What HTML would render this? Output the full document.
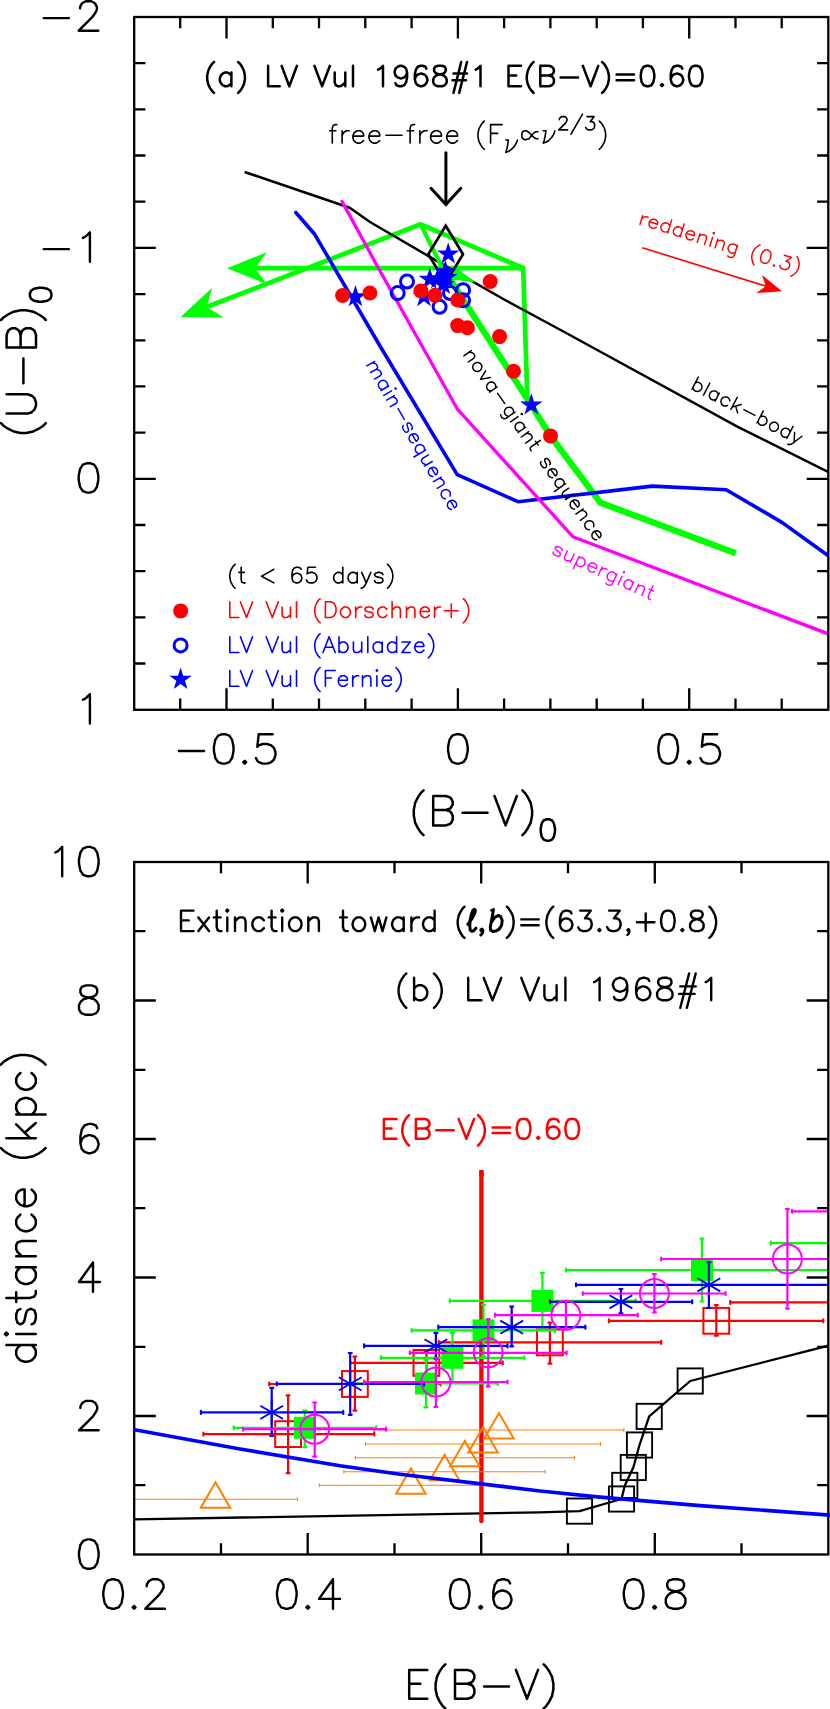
<!DOCTYPE html>
<html><head><meta charset="utf-8"><title>LV Vul</title>
<style>html,body{margin:0;padding:0;background:#fff;font-family:"Liberation Sans",sans-serif}svg{display:block}</style>
</head><body>
<svg width="830" height="1709" viewBox="0 0 830 1709">
<rect width="830" height="1709" fill="#fff"/>
<clipPath id="c1"><rect x="134.2" y="17.0" width="694.0999999999999" height="692.8"/></clipPath>
<g clip-path="url(#c1)">
<path d="M247.0,268.2L523.2,268.1" stroke="#00ff00" stroke-width="4.7" fill="none" stroke-linecap="butt" stroke-linejoin="miter" />
<path d="M199.3,309.8L420.5,224.4L523.2,268.0L527.5,403.0" stroke="#00ff00" stroke-width="4.7" fill="none" stroke-linecap="butt" stroke-linejoin="miter" />
<polygon points="227.0,268.2 267.0,252.2 255.0,268.2 267.0,284.2" fill="#00ff00"/>
<polygon points="180.6,317.0 212.2,287.7 206.7,306.9 223.7,317.5" fill="#00ff00"/>
<path d="M244.6,172.0L349.7,207.7L370.0,222.0L440.0,262.8L505.0,300.0L562.5,331.0L737.8,426.9L830.0,472.8" stroke="#000" stroke-width="2.5" fill="none" stroke-linecap="butt" stroke-linejoin="round" />
<path d="M420.5,224.4L442.6,268.4" stroke="#00ff00" stroke-width="4.2" fill="none" stroke-linecap="butt" stroke-linejoin="miter" />
<polygon points="455,267 475.8,282.4 452,279.4" fill="#00ff00"/>
<path d="M442.4,267.4L531.3,405.1L550.5,436.0L600.4,502.7L735.8,553.3" stroke="#00ff00" stroke-width="6.3" fill="none" stroke-linecap="butt" stroke-linejoin="round" />
<path d="M295.8,212.5L314.7,234.3L380.0,346.0L457.2,474.6L518.0,501.7L652.2,486.1L726.2,489.7L782.3,522.6L830.0,557.0" stroke="#0000ff" stroke-width="3.6" fill="none" stroke-linecap="round" stroke-linejoin="round" />
<path d="M342.0,201.4L380.0,271.0L457.2,408.8L572.9,536.7L830.0,634.5" stroke="#ff00ff" stroke-width="3.3" fill="none" stroke-linecap="round" stroke-linejoin="round" />
</g>
<polygon points="445.7,225.8 463.0,254.3 445.7,283 428.3,254.3" fill="none" stroke="#000" stroke-width="2.7" stroke-linejoin="miter"/>
<path d="M445.9,152.8L445.9,204.2" stroke="#000" stroke-width="3.0" fill="none" stroke-linecap="round" stroke-linejoin="miter" />
<path d="M431.0,188.3L445.9,204.6L460.8,188.3" stroke="#000" stroke-width="3.0" fill="none" stroke-linecap="round" stroke-linejoin="miter" />
<polygon points="448.2,242.2 450.8,250.4 459.4,250.4 452.5,255.4 455.1,263.5 448.2,258.5 441.3,263.5 443.9,255.4 437.0,250.4 445.6,250.4" fill="#0000ff"/>
<polygon points="445.3,259.7 447.9,267.9 456.5,267.9 449.6,272.9 452.2,281.0 445.3,276.0 438.4,281.0 441.0,272.9 434.1,267.9 442.7,267.9" fill="#0000ff"/>
<polygon points="429.8,267.5 432.4,275.7 441.0,275.7 434.1,280.7 436.7,288.8 429.8,283.8 422.9,288.8 425.5,280.7 418.6,275.7 427.2,275.7" fill="#0000ff"/>
<polygon points="437.8,267.0 440.4,275.2 449.0,275.2 442.1,280.2 444.7,288.3 437.8,283.3 430.9,288.3 433.5,280.2 426.6,275.2 435.2,275.2" fill="#0000ff"/>
<polygon points="446.2,265.7 448.8,273.9 457.4,273.9 450.5,278.9 453.1,287.0 446.2,282.0 439.3,287.0 441.9,278.9 435.0,273.9 443.6,273.9" fill="#0000ff"/>
<polygon points="424.0,284.9 426.6,293.1 435.2,293.1 428.3,298.1 430.9,306.2 424.0,301.2 417.1,306.2 419.7,298.1 412.8,293.1 421.4,293.1" fill="#0000ff"/>
<polygon points="443.3,272.7 445.9,280.9 454.5,280.9 447.6,285.9 450.2,294.0 443.3,289.0 436.4,294.0 439.0,285.9 432.1,280.9 440.7,280.9" fill="#0000ff"/>
<polygon points="355.5,285.0 358.1,293.2 366.7,293.2 359.8,298.2 362.4,306.3 355.5,301.3 348.6,306.3 351.2,298.2 344.3,293.2 352.9,293.2" fill="#0000ff"/>
<polygon points="531.3,393.3 533.9,401.5 542.5,401.5 535.6,406.5 538.2,414.6 531.3,409.6 524.4,414.6 527.0,406.5 520.1,401.5 528.7,401.5" fill="#0000ff"/>
<circle cx="407" cy="281.5" r="6.5" fill="none" stroke="#0000ff" stroke-width="3"/>
<circle cx="397.7" cy="293.1" r="6.5" fill="none" stroke="#0000ff" stroke-width="3"/>
<circle cx="439.6" cy="306.8" r="6.5" fill="none" stroke="#0000ff" stroke-width="3"/>
<circle cx="463.1" cy="290.2" r="6.5" fill="none" stroke="#0000ff" stroke-width="3"/>
<circle cx="463.1" cy="300.3" r="6.5" fill="none" stroke="#0000ff" stroke-width="3"/>
<circle cx="450" cy="293" r="6.5" fill="none" stroke="#0000ff" stroke-width="3"/>
<circle cx="342.6" cy="295.5" r="7.5" fill="#ff0000"/>
<circle cx="369.9" cy="293" r="7.5" fill="#ff0000"/>
<circle cx="420.9" cy="290.9" r="7.5" fill="#ff0000"/>
<circle cx="434.9" cy="295.2" r="7.5" fill="#ff0000"/>
<circle cx="457.7" cy="300" r="7.5" fill="#ff0000"/>
<circle cx="490.2" cy="281.5" r="7.5" fill="#ff0000"/>
<circle cx="457.7" cy="325.6" r="7.5" fill="#ff0000"/>
<circle cx="467.4" cy="327.8" r="7.5" fill="#ff0000"/>
<circle cx="499.6" cy="336.6" r="7.5" fill="#ff0000"/>
<circle cx="513.5" cy="371.3" r="7.5" fill="#ff0000"/>
<circle cx="550.5" cy="435.9" r="7.5" fill="#ff0000"/>
<path d="M642.3,247.7L770.5,287.6" stroke="#ff0000" stroke-width="1.6" fill="none" stroke-linecap="butt" stroke-linejoin="miter" />
<polygon points="782.0,291.2 756.3,293.1 765.8,286.1 761.9,275.0" fill="#ff0000"/>
<circle cx="180.6" cy="610.9" r="7.5" fill="#ff0000"/>
<circle cx="180.6" cy="645.4" r="6.5" fill="none" stroke="#0000ff" stroke-width="3"/>
<polygon points="180.6,667.6 183.2,675.8 191.8,675.8 184.9,680.8 187.5,688.9 180.6,683.9 173.7,688.9 176.3,680.8 169.4,675.8 178.0,675.8" fill="#0000ff"/>
<rect x="134.2" y="17.0" width="694.0999999999999" height="692.8" fill="none" stroke="#000" stroke-width="2.3"/>
<path d="M180.2,17.0v11.2M180.2,709.8v-11.2M226.5,17.0v21.6M226.5,709.8v-21.6M272.8,17.0v11.2M272.8,709.8v-11.2M319.0,17.0v11.2M319.0,709.8v-11.2M365.3,17.0v11.2M365.3,709.8v-11.2M411.6,17.0v11.2M411.6,709.8v-11.2M457.9,17.0v21.6M457.9,709.8v-21.6M504.1,17.0v11.2M504.1,709.8v-11.2M550.4,17.0v11.2M550.4,709.8v-11.2M596.7,17.0v11.2M596.7,709.8v-11.2M642.9,17.0v11.2M642.9,709.8v-11.2M689.2,17.0v21.6M689.2,709.8v-21.6M735.5,17.0v11.2M735.5,709.8v-11.2M781.7,17.0v11.2M781.7,709.8v-11.2M134.2,63.2h11.2M828.3,63.2h-11.2M134.2,109.4h11.2M828.3,109.4h-11.2M134.2,155.5h11.2M828.3,155.5h-11.2M134.2,201.7h11.2M828.3,201.7h-11.2M134.2,247.9h21.6M828.3,247.9h-21.6M134.2,294.1h11.2M828.3,294.1h-11.2M134.2,340.3h11.2M828.3,340.3h-11.2M134.2,386.4h11.2M828.3,386.4h-11.2M134.2,432.6h11.2M828.3,432.6h-11.2M134.2,478.8h21.6M828.3,478.8h-21.6M134.2,525.0h11.2M828.3,525.0h-11.2M134.2,571.2h11.2M828.3,571.2h-11.2M134.2,617.3h11.2M828.3,617.3h-11.2M134.2,663.5h11.2M828.3,663.5h-11.2" stroke="#000" stroke-width="2.3" fill="none"/>
<path d="M43.7,18.1L68.9,18.1M80.1,8.3L80.1,6.9L81.5,4.1L82.9,2.7L85.7,1.3L91.3,1.3L94.1,2.7L95.5,4.1L96.9,6.9L96.9,9.7L95.5,12.5L92.7,16.7L78.7,30.7L98.3,30.7" stroke="#000" stroke-width="2.4" fill="none" stroke-linecap="round" stroke-linejoin="round"/>
<path d="M43.7,249.1L68.9,249.1M82.9,237.9L85.7,236.5L89.9,232.3L89.9,261.7" stroke="#000" stroke-width="2.4" fill="none" stroke-linecap="round" stroke-linejoin="round"/>
<path d="M87.1,463.2L82.9,464.6L80.1,468.8L78.7,475.8L78.7,480.0L80.1,487.0L82.9,491.2L87.1,492.6L89.9,492.6L94.1,491.2L96.9,487.0L98.3,480.0L98.3,475.8L96.9,468.8L94.1,464.6L89.9,463.2L87.1,463.2" stroke="#000" stroke-width="2.4" fill="none" stroke-linecap="round" stroke-linejoin="round"/>
<path d="M82.9,699.8L85.7,698.4L89.9,694.2L89.9,723.6" stroke="#000" stroke-width="2.4" fill="none" stroke-linecap="round" stroke-linejoin="round"/>
<path d="M178.9,751.0L204.1,751.0M222.3,734.2L218.1,735.6L215.3,739.8L213.9,746.8L213.9,751.0L215.3,758.0L218.1,762.2L222.3,763.6L225.1,763.6L229.3,762.2L232.1,758.0L233.5,751.0L233.5,746.8L232.1,739.8L229.3,735.6L225.1,734.2L222.3,734.2M244.7,760.8L243.3,762.2L244.7,763.6L246.1,762.2L244.7,760.8M272.7,734.2L258.7,734.2L257.3,746.8L258.7,745.4L262.9,744.0L267.1,744.0L271.3,745.4L274.1,748.2L275.5,752.4L275.5,755.2L274.1,759.4L271.3,762.2L267.1,763.6L262.9,763.6L258.7,762.2L257.3,760.8L255.9,758.0" stroke="#000" stroke-width="2.4" fill="none" stroke-linecap="round" stroke-linejoin="round"/>
<path d="M456.5,734.2L452.2,735.6L449.5,739.8L448.1,746.8L448.1,751.0L449.5,758.0L452.2,762.2L456.5,763.6L459.2,763.6L463.5,762.2L466.2,758.0L467.7,751.0L467.7,746.8L466.2,739.8L463.5,735.6L459.2,734.2L456.5,734.2" stroke="#000" stroke-width="2.4" fill="none" stroke-linecap="round" stroke-linejoin="round"/>
<path d="M666.8,734.2L662.6,735.6L659.8,739.8L658.4,746.8L658.4,751.0L659.8,758.0L662.6,762.2L666.8,763.6L669.6,763.6L673.8,762.2L676.6,758.0L678.0,751.0L678.0,746.8L676.6,739.8L673.8,735.6L669.6,734.2L666.8,734.2M689.2,760.8L687.8,762.2L689.2,763.6L690.6,762.2L689.2,760.8M717.2,734.2L703.2,734.2L701.8,746.8L703.2,745.4L707.4,744.0L711.6,744.0L715.8,745.4L718.6,748.2L720.0,752.4L720.0,755.2L718.6,759.4L715.8,762.2L711.6,763.6L707.4,763.6L703.2,762.2L701.8,760.8L700.4,758.0" stroke="#000" stroke-width="2.4" fill="none" stroke-linecap="round" stroke-linejoin="round"/>
<path d="M423.5,790.4L420.7,793.1L417.9,797.4L415.1,803.0L413.8,810.0L413.8,815.6L415.1,822.6L417.9,828.1L420.7,832.4L423.5,835.1M433.2,796.0L433.2,825.4M433.2,796.0L445.8,796.0L450.0,797.4L451.3,798.8L452.7,801.6L452.7,804.4L451.3,807.1L450.0,808.6L445.8,810.0M433.2,810.0L445.8,810.0L450.0,811.4L451.3,812.8L452.7,815.6L452.7,819.8L451.3,822.6L450.0,824.0L445.8,825.4L433.2,825.4M462.5,812.8L487.5,812.8M494.5,796.0L505.6,825.4M516.8,796.0L505.6,825.4M522.4,790.4L525.1,793.1L527.9,797.4L530.7,803.0L532.1,810.0L532.1,815.6L530.7,822.6L527.9,828.1L525.1,832.4L522.4,835.1M546.8,819.3L543.8,820.3L541.7,823.4L540.7,828.5L540.7,831.6L541.7,836.7L543.8,839.7L546.8,840.8L548.9,840.8L551.9,839.7L553.9,836.7L555.0,831.6L555.0,828.5L553.9,823.4L551.9,820.3L548.9,819.3L546.8,819.3" stroke="#000" stroke-width="2.5" fill="none" stroke-linecap="round" stroke-linejoin="round"/>
<path d="M1.0,423.2L3.8,426.0L8.0,428.7L13.6,431.5L20.6,432.9L26.2,432.9L33.2,431.5L38.8,428.7L43.0,426.0L45.8,423.2M6.6,413.6L27.6,413.6L31.8,412.2L34.6,409.4L36.0,405.3L36.0,402.6L34.6,398.4L31.8,395.7L27.6,394.3L6.6,394.3M23.4,383.3L23.4,358.5M6.6,347.5L36.0,347.5M6.6,347.5L6.6,335.1L8.0,331.0L9.4,329.6L12.2,328.2L15.0,328.2L17.8,329.6L19.2,331.0L20.6,335.1M20.6,347.5L20.6,335.1L22.0,331.0L23.4,329.6L26.2,328.2L30.4,328.2L33.2,329.6L34.6,331.0L36.0,335.1L36.0,347.5M1.0,320.0L3.8,317.2L8.0,314.5L13.6,311.7L20.6,310.3L26.2,310.3L33.2,311.7L38.8,314.5L43.0,317.2L45.8,320.0M29.9,295.8L31.0,298.8L34.0,300.8L39.1,301.8L42.2,301.8L47.3,300.8L50.4,298.8L51.4,295.8L51.4,293.8L50.4,290.8L47.3,288.8L42.2,287.8L39.1,287.8L34.0,288.8L31.0,290.8L29.9,293.8L29.9,295.8" stroke="#000" stroke-width="2.5" fill="none" stroke-linecap="round" stroke-linejoin="round"/>
<path d="M214.0,62.0L212.1,63.9L210.1,66.8L208.2,70.7L207.2,75.5L207.2,79.4L208.2,84.2L210.1,88.1L212.1,91.0L214.0,92.9M231.4,72.6L231.4,86.2M231.4,75.5L229.5,73.6L227.5,72.6L224.6,72.6L222.7,73.6L220.8,75.5L219.8,78.4L219.8,80.3L220.8,83.2L222.7,85.2L224.6,86.2L227.5,86.2L229.5,85.2L231.4,83.2M238.1,62.0L240.1,63.9L242.0,66.8L243.9,70.7L244.9,75.5L244.9,79.4L243.9,84.2L242.0,88.1L240.1,91.0L238.1,92.9M268.1,65.8L268.1,86.2M268.1,86.2L279.7,86.2M281.6,65.8L289.3,86.2M297.0,65.8L289.3,86.2M314.4,65.8L322.1,86.2M329.9,65.8L322.1,86.2M334.7,72.6L334.7,82.3L335.7,85.2L337.6,86.2L340.5,86.2L342.4,85.2L345.3,82.3M345.3,72.6L345.3,86.2M353.0,65.8L353.0,86.2M378.1,69.7L380.1,68.7L383.0,65.8L383.0,86.2M407.1,72.6L406.1,75.5L404.2,77.4L401.3,78.4L400.3,78.4L397.5,77.4L395.5,75.5L394.6,72.6L394.6,71.6L395.5,68.7L397.5,66.8L400.3,65.8L401.3,65.8L404.2,66.8L406.1,68.7L407.1,72.6L407.1,77.4L406.1,82.3L404.2,85.2L401.3,86.2L399.4,86.2L396.5,85.2L395.5,83.2M426.4,68.7L425.5,66.8L422.6,65.8L420.6,65.8L417.7,66.8L415.8,69.7L414.8,74.5L414.8,79.4L415.8,83.2L417.7,85.2L420.6,86.2L421.6,86.2L424.5,85.2L426.4,83.2L427.4,80.3L427.4,79.4L426.4,76.5L424.5,74.5L421.6,73.6L420.6,73.6L417.7,74.5L415.8,76.5L414.8,79.4M438.0,65.8L435.1,66.8L434.1,68.7L434.1,70.7L435.1,72.6L437.0,73.6L440.9,74.5L443.8,75.5L445.7,77.4L446.7,79.4L446.7,82.3L445.7,84.2L444.8,85.2L441.9,86.2L438.0,86.2L435.1,85.2L434.1,84.2L433.2,82.3L433.2,79.4L434.1,77.4L436.1,75.5L439.0,74.5L442.8,73.6L444.8,72.6L445.7,70.7L445.7,68.7L444.8,66.8L441.9,65.8L438.0,65.8M461.2,62.0L453.5,92.9M467.0,62.0L459.2,92.9M453.5,73.6L467.0,73.6M452.5,80.3L466.0,80.3M475.7,69.7L477.6,68.7L480.5,65.8L480.5,86.2M508.5,65.8L508.5,86.2M508.5,65.8L521.0,65.8M508.5,75.5L516.2,75.5M508.5,86.2L521.0,86.2M533.6,62.0L531.7,63.9L529.7,66.8L527.8,70.7L526.8,75.5L526.8,79.4L527.8,84.2L529.7,88.1L531.7,91.0L533.6,92.9M540.3,65.8L540.3,86.2M540.3,65.8L549.0,65.8L551.9,66.8L552.9,67.8L553.9,69.7L553.9,71.6L552.9,73.6L551.9,74.5L549.0,75.5M540.3,75.5L549.0,75.5L551.9,76.5L552.9,77.4L553.9,79.4L553.9,82.3L552.9,84.2L551.9,85.2L549.0,86.2L540.3,86.2M560.6,77.4L578.0,77.4M582.8,65.8L590.6,86.2M598.3,65.8L590.6,86.2M602.1,62.0L604.1,63.9L606.0,66.8L607.9,70.7L608.9,75.5L608.9,79.4L607.9,84.2L606.0,88.1L604.1,91.0L602.1,92.9M616.6,74.5L634.0,74.5M616.6,80.3L634.0,80.3M646.6,65.8L643.7,66.8L641.7,69.7L640.8,74.5L640.8,77.4L641.7,82.3L643.7,85.2L646.6,86.2L648.5,86.2L651.4,85.2L653.3,82.3L654.3,77.4L654.3,74.5L653.3,69.7L651.4,66.8L648.5,65.8L646.6,65.8M662.0,84.2L661.0,85.2L662.0,86.2L663.0,85.2L662.0,84.2M682.3,68.7L681.3,66.8L678.4,65.8L676.5,65.8L673.6,66.8L671.7,69.7L670.7,74.5L670.7,79.4L671.7,83.2L673.6,85.2L676.5,86.2L677.4,86.2L680.3,85.2L682.3,83.2L683.2,80.3L683.2,79.4L682.3,76.5L680.3,74.5L677.4,73.6L676.5,73.6L673.6,74.5L671.7,76.5L670.7,79.4M694.8,65.8L691.9,66.8L690.0,69.7L689.0,74.5L689.0,77.4L690.0,82.3L691.9,85.2L694.8,86.2L696.8,86.2L699.7,85.2L701.6,82.3L702.5,77.4L702.5,74.5L701.6,69.7L699.7,66.8L696.8,65.8L694.8,65.8" stroke="#000" stroke-width="2.5" fill="none" stroke-linecap="round" stroke-linejoin="round"/>
<path d="M336.8,124.6L335.0,124.6L333.2,125.5L332.3,128.1L332.3,143.1M329.6,130.8L335.9,130.8M342.1,130.8L342.1,143.1M342.1,136.1L343.0,133.4L344.8,131.7L346.6,130.8L349.3,130.8M352.9,136.1L363.6,136.1L363.6,134.3L362.7,132.5L361.8,131.7L360.0,130.8L357.3,130.8L355.5,131.7L353.7,133.4L352.9,136.1L352.9,137.8L353.7,140.5L355.5,142.2L357.3,143.1L360.0,143.1L361.8,142.2L363.6,140.5M368.9,136.1L379.7,136.1L379.7,134.3L378.8,132.5L377.9,131.7L376.1,130.8L373.4,130.8L371.6,131.7L369.8,133.4L368.9,136.1L368.9,137.8L369.8,140.5L371.6,142.2L373.4,143.1L376.1,143.1L377.9,142.2L379.7,140.5M385.9,135.2L402.0,135.2M414.6,124.6L412.8,124.6L411.0,125.5L410.1,128.1L410.1,143.1M407.4,130.8L413.7,130.8M419.9,130.8L419.9,143.1M419.9,136.1L420.8,133.4L422.6,131.7L424.4,130.8L427.1,130.8M430.6,136.1L441.4,136.1L441.4,134.3L440.5,132.5L439.6,131.7L437.8,130.8L435.1,130.8L433.3,131.7L431.5,133.4L430.6,136.1L430.6,137.8L431.5,140.5L433.3,142.2L435.1,143.1L437.8,143.1L439.6,142.2L441.4,140.5M446.7,136.1L457.5,136.1L457.5,134.3L456.6,132.5L455.7,131.7L453.9,130.8L451.2,130.8L449.4,131.7L447.6,133.4L446.7,136.1L446.7,137.8L447.6,140.5L449.4,142.2L451.2,143.1L453.9,143.1L455.7,142.2L457.5,140.5M484.3,121.1L482.5,122.9L480.7,125.5L478.9,129.0L478.0,133.4L478.0,136.9L478.9,141.3L480.7,144.9L482.5,147.5L484.3,149.3M490.6,124.6L490.6,143.1M490.6,124.6L502.2,124.6M490.6,133.4L497.7,133.4M505.8,140.0L508.4,140.0L507.6,145.3L506.7,149.7L505.8,152.3M517.4,140.0L516.5,142.7L515.6,144.4L513.8,147.1L511.1,149.7L508.4,151.5L505.8,152.3M538.0,138.7L536.2,138.7L534.4,137.8L532.6,136.1L529.0,132.5L526.3,130.8L524.5,130.8L522.8,131.7L521.9,133.4L521.9,136.9L522.8,138.7L524.5,139.6L526.3,139.6L529.0,138.7L532.6,134.3L534.4,132.5L536.2,131.7L538.0,131.7M543.3,130.8L546.0,130.8L545.1,136.1L544.2,140.5L543.3,143.1M554.9,130.8L554.1,133.4L553.2,135.2L551.4,137.8L548.7,140.5L546.0,142.2L543.3,143.1M559.3,119.8L559.3,119.1L560.0,117.9L560.6,117.2L561.9,116.6L564.5,116.6L565.8,117.2L566.4,117.9L567.0,119.1L567.0,120.4L566.4,121.7L565.1,123.6L558.7,129.9L567.7,129.9M582.5,114.1L570.9,134.3M587.0,116.6L594.1,116.6L590.2,121.7L592.2,121.7L593.4,122.3L594.1,122.9L594.7,124.8L594.7,126.1L594.1,128.0L592.8,129.3L590.9,129.9L588.9,129.9L587.0,129.3L586.4,128.6L585.7,127.4M599.3,121.1L601.1,122.9L602.9,125.5L604.7,129.0L605.6,133.4L605.6,136.9L604.7,141.3L602.9,144.9L601.1,147.5L599.3,149.3" stroke="#000" stroke-width="1.6" fill="none" stroke-linecap="round" stroke-linejoin="round"/>
<path d="M235.1,564.2L233.6,565.7L232.1,567.9L230.6,570.9L229.8,574.7L229.8,577.7L230.6,581.4L232.1,584.4L233.6,586.7L235.1,588.2M241.2,567.2L241.2,579.9L241.9,582.2L243.4,582.9L245.0,582.9M238.9,572.4L244.2,572.4M273.8,569.4L261.6,576.2L273.8,582.9M301.1,569.4L300.3,567.9L298.0,567.2L296.5,567.2L294.2,567.9L292.7,570.2L292.0,573.9L292.0,577.7L292.7,580.7L294.2,582.2L296.5,582.9L297.3,582.9L299.5,582.2L301.1,580.7L301.8,578.4L301.8,577.7L301.1,575.4L299.5,573.9L297.3,573.2L296.5,573.2L294.2,573.9L292.7,575.4L292.0,577.7M315.5,567.2L307.9,567.2L307.1,573.9L307.9,573.2L310.2,572.4L312.4,572.4L314.7,573.2L316.2,574.7L317.0,576.9L317.0,578.4L316.2,580.7L314.7,582.2L312.4,582.9L310.2,582.9L307.9,582.2L307.1,581.4L306.4,579.9M342.8,567.2L342.8,582.9M342.8,574.7L341.2,573.2L339.7,572.4L337.5,572.4L335.9,573.2L334.4,574.7L333.7,576.9L333.7,578.4L334.4,580.7L335.9,582.2L337.5,582.9L339.7,582.9L341.2,582.2L342.8,580.7M357.2,572.4L357.2,582.9M357.2,574.7L355.7,573.2L354.1,572.4L351.9,572.4L350.3,573.2L348.8,574.7L348.1,576.9L348.1,578.4L348.8,580.7L350.3,582.2L351.9,582.9L354.1,582.9L355.7,582.2L357.2,580.7M361.7,572.4L366.3,582.9M370.8,572.4L366.3,582.9L364.7,585.9L363.2,587.4L361.7,588.2L361.0,588.2M382.9,574.7L382.2,573.2L379.9,572.4L377.6,572.4L375.4,573.2L374.6,574.7L375.4,576.2L376.9,576.9L380.7,577.7L382.2,578.4L382.9,579.9L382.9,580.7L382.2,582.2L379.9,582.9L377.6,582.9L375.4,582.2L374.6,580.7M387.5,564.2L389.0,565.7L390.5,567.9L392.0,570.9L392.8,574.7L392.8,577.7L392.0,581.4L390.5,584.4L389.0,586.7L387.5,588.2" stroke="#000" stroke-width="1.6" fill="none" stroke-linecap="round" stroke-linejoin="round"/>
<path d="M229.8,601.8L229.8,617.5M229.8,617.5L238.9,617.5M240.4,601.8L246.5,617.5M252.6,601.8L246.5,617.5M266.2,601.8L272.3,617.5M278.3,601.8L272.3,617.5M282.1,607.0L282.1,614.5L282.9,616.8L284.4,617.5L286.7,617.5L288.2,616.8L290.5,614.5M290.5,607.0L290.5,617.5M296.5,601.8L296.5,617.5M320.1,598.8L318.5,600.2L317.0,602.5L315.5,605.5L314.7,609.2L314.7,612.2L315.5,616.0L317.0,619.0L318.5,621.2L320.1,622.8M325.4,601.8L325.4,617.5M325.4,601.8L330.7,601.8L332.9,602.5L334.5,604.0L335.2,605.5L336.0,607.8L336.0,611.5L335.2,613.8L334.5,615.2L332.9,616.8L330.7,617.5L325.4,617.5M344.3,607.0L342.8,607.8L341.3,609.2L340.5,611.5L340.5,613.0L341.3,615.2L342.8,616.8L344.3,617.5L346.6,617.5L348.1,616.8L349.6,615.2L350.4,613.0L350.4,611.5L349.6,609.2L348.1,607.8L346.6,607.0L344.3,607.0M355.7,607.0L355.7,617.5M355.7,611.5L356.5,609.2L358.0,607.8L359.5,607.0L361.8,607.0M373.1,609.2L372.4,607.8L370.1,607.0L367.8,607.0L365.6,607.8L364.8,609.2L365.6,610.8L367.1,611.5L370.9,612.2L372.4,613.0L373.1,614.5L373.1,615.2L372.4,616.8L370.1,617.5L367.8,617.5L365.6,616.8L364.8,615.2M386.8,609.2L385.3,607.8L383.8,607.0L381.5,607.0L380.0,607.8L378.4,609.2L377.7,611.5L377.7,613.0L378.4,615.2L380.0,616.8L381.5,617.5L383.8,617.5L385.3,616.8L386.8,615.2M392.1,601.8L392.1,617.5M392.1,610.0L394.4,607.8L395.9,607.0L398.2,607.0L399.7,607.8L400.4,610.0L400.4,617.5M406.5,607.0L406.5,617.5M406.5,610.0L408.8,607.8L410.3,607.0L412.6,607.0L414.1,607.8L414.9,610.0L414.9,617.5M420.2,611.5L429.3,611.5L429.3,610.0L428.5,608.5L427.7,607.8L426.2,607.0L424.0,607.0L422.4,607.8L420.9,609.2L420.2,611.5L420.2,613.0L420.9,615.2L422.4,616.8L424.0,617.5L426.2,617.5L427.7,616.8L429.3,615.2M434.6,607.0L434.6,617.5M434.6,611.5L435.3,609.2L436.8,607.8L438.4,607.0L440.6,607.0M451.3,604.0L451.3,617.5M444.4,610.8L458.1,610.8M463.4,598.8L464.9,600.2L466.4,602.5L467.9,605.5L468.7,609.2L468.7,612.2L467.9,616.0L466.4,619.0L464.9,621.2L463.4,622.8" stroke="#ff0000" stroke-width="1.6" fill="none" stroke-linecap="round" stroke-linejoin="round"/>
<path d="M229.8,636.8L229.8,652.5M229.8,652.5L238.9,652.5M240.4,636.8L246.5,652.5M252.5,636.8L246.5,652.5M266.2,636.8L272.2,652.5M278.3,636.8L272.2,652.5M282.1,642.0L282.1,649.5L282.9,651.8L284.4,652.5L286.6,652.5L288.2,651.8L290.4,649.5M290.4,642.0L290.4,652.5M296.5,636.8L296.5,652.5M320.0,633.8L318.5,635.2L317.0,637.5L315.5,640.5L314.7,644.2L314.7,647.2L315.5,651.0L317.0,654.0L318.5,656.2L320.0,657.8M329.1,636.8L323.0,652.5M329.1,636.8L335.2,652.5M325.3,647.2L332.9,647.2M339.0,636.8L339.0,652.5M339.0,644.2L340.5,642.8L342.0,642.0L344.3,642.0L345.8,642.8L347.3,644.2L348.0,646.5L348.0,648.0L347.3,650.2L345.8,651.8L344.3,652.5L342.0,652.5L340.5,651.8L339.0,650.2M353.4,642.0L353.4,649.5L354.1,651.8L355.6,652.5L357.9,652.5L359.4,651.8L361.7,649.5M361.7,642.0L361.7,652.5M367.8,636.8L367.8,652.5M382.2,642.0L382.2,652.5M382.2,644.2L380.6,642.8L379.1,642.0L376.9,642.0L375.3,642.8L373.8,644.2L373.1,646.5L373.1,648.0L373.8,650.2L375.3,651.8L376.9,652.5L379.1,652.5L380.6,651.8L382.2,650.2M396.6,636.8L396.6,652.5M396.6,644.2L395.0,642.8L393.5,642.0L391.3,642.0L389.7,642.8L388.2,644.2L387.5,646.5L387.5,648.0L388.2,650.2L389.7,651.8L391.3,652.5L393.5,652.5L395.0,651.8L396.6,650.2M410.2,642.0L401.9,652.5M401.9,642.0L410.2,642.0M401.9,652.5L410.2,652.5M414.8,646.5L423.8,646.5L423.8,645.0L423.1,643.5L422.3,642.8L420.8,642.0L418.5,642.0L417.0,642.8L415.5,644.2L414.8,646.5L414.8,648.0L415.5,650.2L417.0,651.8L418.5,652.5L420.8,652.5L422.3,651.8L423.8,650.2M428.4,633.8L429.9,635.2L431.4,637.5L432.9,640.5L433.7,644.2L433.7,647.2L432.9,651.0L431.4,654.0L429.9,656.2L428.4,657.8" stroke="#0000ff" stroke-width="1.6" fill="none" stroke-linecap="round" stroke-linejoin="round"/>
<path d="M229.8,670.5L229.8,686.2M229.8,686.2L238.9,686.2M240.4,670.5L246.5,686.2M252.6,670.5L246.5,686.2M266.2,670.5L272.3,686.2M278.3,670.5L272.3,686.2M282.1,675.7L282.1,683.2L282.9,685.5L284.4,686.2L286.7,686.2L288.2,685.5L290.5,683.2M290.5,675.7L290.5,686.2M296.5,670.5L296.5,686.2M320.1,667.5L318.5,669.0L317.0,671.2L315.5,674.2L314.7,678.0L314.7,681.0L315.5,684.7L317.0,687.7L318.5,690.0L320.1,691.5M325.4,670.5L325.4,686.2M325.4,670.5L335.2,670.5M325.4,678.0L331.4,678.0M338.3,680.2L347.4,680.2L347.4,678.7L346.6,677.2L345.8,676.5L344.3,675.7L342.0,675.7L340.5,676.5L339.0,678.0L338.3,680.2L338.3,681.7L339.0,684.0L340.5,685.5L342.0,686.2L344.3,686.2L345.8,685.5L347.4,684.0M352.7,675.7L352.7,686.2M352.7,680.2L353.4,678.0L354.9,676.5L356.5,675.7L358.7,675.7M362.5,675.7L362.5,686.2M362.5,678.7L364.8,676.5L366.3,675.7L368.6,675.7L370.1,676.5L370.9,678.7L370.9,686.2M376.2,670.5L376.9,671.2L377.7,670.5L376.9,669.7L376.2,670.5M376.9,675.7L376.9,686.2M382.2,680.2L391.3,680.2L391.3,678.7L390.6,677.2L389.8,676.5L388.3,675.7L386.0,675.7L384.5,676.5L383.0,678.0L382.2,680.2L382.2,681.7L383.0,684.0L384.5,685.5L386.0,686.2L388.3,686.2L389.8,685.5L391.3,684.0M395.9,667.5L397.4,669.0L398.9,671.2L400.4,674.2L401.2,678.0L401.2,681.0L400.4,684.7L398.9,687.7L397.4,690.0L395.9,691.5" stroke="#0000ff" stroke-width="1.6" fill="none" stroke-linecap="round" stroke-linejoin="round"/>
<path d="M374.7,361.4L366.8,365.9M372.4,362.7L375.2,363.5L376.4,364.4L377.4,366.2L377.6,367.7L376.2,369.3L370.6,372.5M376.2,369.3L379.0,370.1L380.2,371.0L381.2,372.8L381.4,374.3L380.0,375.9L374.4,379.1M388.8,386.0L380.9,390.5M387.1,386.9L387.6,385.1L387.5,383.6L386.4,381.8L385.2,380.9L383.3,380.3L381.3,380.7L380.2,381.4L378.8,382.9L378.4,384.8L378.5,386.3L379.6,388.1L380.8,389.0L382.6,389.5M395.2,387.9L395.0,388.8L395.9,389.1L396.1,388.2L395.2,387.9M391.6,390.8L383.7,395.3M394.4,395.6L386.5,400.1M392.1,396.9L394.8,397.7L396.1,398.6L397.1,400.4L397.2,401.9L395.9,403.5L390.3,406.7M398.1,408.6L404.3,419.4M411.6,429.5L412.4,428.3L411.9,426.2L410.9,424.4L409.3,422.9L407.8,422.9L407.1,424.2L407.2,425.7L408.3,429.0L408.5,430.5L407.7,431.8L407.1,432.1L405.7,432.2L404.1,430.7L403.0,428.9L402.5,426.8L403.3,425.5M412.0,434.1L416.2,441.3L417.3,440.6L418.1,439.4L418.3,438.5L418.2,437.0L417.1,435.2L415.9,434.3L414.0,433.7L412.0,434.1L410.9,434.7L409.5,436.3L409.1,438.2L409.2,439.7L410.3,441.5L411.5,442.4L413.3,442.9M425.7,450.1L413.9,457.0M424.1,451.1L424.5,449.3L424.4,447.7L423.3,445.9L422.1,445.1L420.3,444.5L418.2,444.9L417.1,445.5L415.7,447.1L415.3,449.0L415.4,450.5L416.5,452.3L417.7,453.2L419.5,453.7M428.5,454.9L422.9,458.2L421.5,459.8L421.6,461.3L422.7,463.1L423.9,464.0L426.7,464.8M432.3,461.5L424.4,466.1M431.3,467.7L435.5,474.9L436.6,474.2L437.4,473.0L437.6,472.1L437.5,470.5L436.4,468.7L435.2,467.9L433.4,467.3L431.3,467.7L430.2,468.3L428.9,469.9L428.4,471.8L428.5,473.3L429.6,475.1L430.8,476.0L432.7,476.5M441.3,477.1L433.4,481.7M439.0,478.4L441.7,479.3L443.0,480.1L444.0,481.9L444.2,483.5L442.8,485.0L437.2,488.3M449.9,496.1L450.4,494.3L450.2,492.7L449.2,490.9L447.9,490.1L446.1,489.5L444.1,489.9L443.0,490.5L441.6,492.1L441.2,494.0L441.3,495.5L442.3,497.3L443.6,498.2L445.4,498.7M450.3,500.7L454.4,507.9L455.6,507.2L456.4,506.0L456.6,505.1L456.4,503.5L455.4,501.7L454.2,500.9L452.3,500.3L450.3,500.7L449.2,501.3L447.8,502.9L447.4,504.8L447.5,506.3L448.6,508.1L449.8,509.0L451.6,509.5" stroke="#0000ff" stroke-width="1.45" fill="none" stroke-linecap="round" stroke-linejoin="round"/>
<path d="M471.3,350.6L463.9,355.9M469.2,352.1L472.0,352.7L473.3,353.4L474.5,355.1L474.8,356.6L473.6,358.3L468.3,362.0M480.4,363.5L479.1,362.8L477.3,362.4L475.3,363.0L474.2,363.7L473.0,365.4L472.7,367.3L473.0,368.8L474.2,370.4L475.5,371.2L477.4,371.5L479.4,371.0L480.4,370.2L481.6,368.5L481.9,366.7L481.6,365.2L480.4,363.5M485.6,370.8L480.5,379.4M490.3,377.5L480.5,379.4M497.1,387.0L489.6,392.2M495.5,388.1L495.7,386.2L495.5,384.7L494.3,383.1L493.0,382.3L491.1,382.0L489.1,382.5L488.1,383.3L486.9,385.0L486.6,386.8L486.9,388.3L488.0,390.0L489.4,390.7L491.2,391.1M497.6,393.3L504.7,403.4M514.9,412.1L506.4,418.1L504.4,418.7L503.5,418.5L502.1,417.8L501.0,416.1L500.7,414.6M513.3,413.3L513.5,411.4L513.3,409.9L512.1,408.2L510.8,407.5L508.9,407.1L506.9,407.7L505.9,408.4L504.7,410.1L504.4,412.0L504.7,413.5L505.9,415.2L507.2,415.9L509.0,416.3M521.4,413.4L521.2,414.4L522.1,414.5L522.3,413.6L521.4,413.4M518.0,416.6L510.6,421.9M525.6,427.2L518.1,432.5M524.0,428.4L524.2,426.5L524.0,425.0L522.8,423.3L521.5,422.6L519.6,422.2L517.6,422.8L516.6,423.5L515.4,425.2L515.1,427.1L515.4,428.6L516.5,430.3L517.9,431.0L519.7,431.4M528.7,431.7L521.3,437.0M526.6,433.2L529.4,433.8L530.7,434.5L531.9,436.2L532.2,437.7L531.0,439.4L525.6,443.1M540.4,440.3L531.3,446.6L530.1,448.3L530.4,449.8L531.2,450.9M535.5,441.2L538.2,445.1M549.7,464.7L550.4,463.4L549.7,461.3L548.5,459.7L546.8,458.4L545.3,458.5L544.7,459.9L544.9,461.4L546.4,464.5L546.6,466.0L546.0,467.3L545.4,467.7L544.0,467.9L542.3,466.6L541.1,464.9L540.4,462.9L541.1,461.6M550.5,469.2L555.2,475.9L556.3,475.1L557.0,473.8L557.1,472.9L556.8,471.4L555.6,469.7L554.3,469.0L552.5,468.6L550.5,469.2L549.4,469.9L548.2,471.6L548.0,473.5L548.2,475.0L549.4,476.7L550.7,477.4L552.6,477.8M565.5,483.7L554.4,491.6M563.9,484.8L564.2,483.0L564.0,481.5L562.8,479.8L561.4,479.0L559.6,478.7L557.6,479.2L556.5,480.0L555.3,481.7L555.1,483.5L555.3,485.0L556.5,486.7L557.8,487.5L559.7,487.8M568.7,488.2L563.4,491.9L562.2,493.6L562.5,495.1L563.6,496.8L565.0,497.5L567.8,498.1M573.1,494.3L565.6,499.6M572.6,500.5L577.4,507.2L578.5,506.4L579.1,505.1L579.3,504.2L579.0,502.7L577.8,501.0L576.5,500.3L574.6,499.9L572.6,500.5L571.6,501.2L570.4,502.9L570.1,504.8L570.4,506.3L571.6,508.0L572.9,508.7L574.7,509.1M583.3,508.9L575.9,514.1M581.2,510.4L584.0,510.9L585.3,511.6L586.5,513.3L586.8,514.8L585.6,516.5L580.3,520.3M593.6,526.8L593.9,524.9L593.6,523.4L592.5,521.7L591.1,521.0L589.3,520.6L587.3,521.2L586.2,521.9L585.0,523.6L584.8,525.5L585.0,527.0L586.2,528.6L587.5,529.4L589.4,529.8M594.4,531.2L599.2,537.9L600.2,537.2L600.9,535.9L601.0,534.9L600.8,533.5L599.6,531.8L598.3,531.0L596.4,530.7L594.4,531.2L593.4,532.0L592.2,533.7L591.9,535.5L592.1,537.0L593.3,538.7L594.7,539.5L596.5,539.8" stroke="#000" stroke-width="1.45" fill="none" stroke-linecap="round" stroke-linejoin="round"/>
<path d="M562.2,550.6L562.1,549.1L560.5,547.7L558.6,546.8L556.5,546.5L555.3,547.4L555.4,548.9L556.4,550.1L559.2,552.1L560.2,553.3L560.2,554.7L560.0,555.3L558.8,556.2L556.6,555.9L554.8,555.1L553.2,553.6L553.1,552.1M567.3,550.9L564.6,556.8L564.4,558.8L565.3,560.0L567.2,560.8L568.7,560.8L571.4,559.9M574.1,554.0L570.3,562.3M579.1,556.4L573.3,568.7M578.3,558.1L580.1,557.5L581.6,557.5L583.5,558.4L584.4,559.6L585.1,561.3L584.9,563.4L584.4,564.6L582.9,566.0L581.1,566.6L579.6,566.6L577.8,565.8L576.8,564.6L576.1,562.8M588.6,565.1L596.1,568.6L596.6,567.4L596.6,565.9L596.2,565.1L595.3,563.9L593.4,563.0L591.9,563.0L590.1,563.6L588.6,565.1L588.1,566.3L587.9,568.3L588.6,570.1L589.5,571.3L591.4,572.1L592.9,572.1L594.7,571.5M602.1,567.1L598.2,575.3M600.4,570.6L601.9,569.1L603.7,568.5L605.2,568.5L607.1,569.4M617.0,574.0L612.6,583.4L611.1,584.9L610.3,585.2L608.7,585.2L606.9,584.4L605.9,583.2M616.2,575.8L615.5,574.0L614.5,572.9L612.6,572.0L611.1,572.0L609.3,572.6L607.9,574.1L607.3,575.3L607.1,577.3L607.8,579.1L608.8,580.2L610.7,581.1L612.2,581.1L614.0,580.5M623.3,571.9L623.6,572.8L624.5,572.5L624.2,571.6L623.3,571.9M622.0,576.3L618.1,584.6M633.7,581.8L629.9,590.1M632.9,583.6L632.2,581.8L631.3,580.7L629.4,579.8L627.9,579.8L626.1,580.4L624.7,581.9L624.1,583.1L623.9,585.1L624.6,586.9L625.6,588.1L627.4,588.9L628.9,588.9L630.7,588.3M638.7,584.2L634.9,592.4M637.6,586.5L640.3,585.6L641.8,585.6L643.7,586.5L644.6,587.6L644.4,589.7L641.7,595.6M653.1,585.8L648.4,595.8L648.2,597.9L649.1,599.1L650.4,599.6M649.3,589.1L653.6,591.1" stroke="#ff00ff" stroke-width="1.45" fill="none" stroke-linecap="round" stroke-linejoin="round"/>
<path d="M698.3,377.1L692.0,389.2M695.3,382.9L697.1,382.3L698.6,382.4L700.5,383.3L701.4,384.6L702.0,386.3L701.7,388.4L701.1,389.5L699.6,390.9L697.8,391.5L696.3,391.4L694.4,390.5L693.5,389.3L692.9,387.5M709.8,383.1L703.5,395.2M719.3,393.1L715.1,401.2M718.4,394.9L717.8,393.1L716.9,391.9L715.0,390.9L713.5,390.9L711.7,391.4L710.2,392.8L709.6,394.0L709.3,396.0L709.9,397.8L710.8,399.0L712.7,400.0L714.2,400.0L716.0,399.5M729.9,400.9L729.3,399.1L728.4,397.9L726.6,396.9L725.1,396.9L723.3,397.4L721.7,398.8L721.1,400.0L720.9,402.0L721.5,403.8L722.4,405.0L724.2,406.0L725.7,406.0L727.5,405.5M737.2,397.3L730.9,409.4M741.2,404.5L732.1,407.1M735.7,406.1L737.6,412.9M743.9,409.6L754.9,415.3M763.3,410.9L757.0,423.0M760.3,416.7L762.1,416.2L763.6,416.2L765.5,417.2L766.4,418.4L767.0,420.2L766.7,422.2L766.1,423.4L764.6,424.8L762.8,425.3L761.3,425.3L759.4,424.3L758.5,423.1L757.9,421.3M775.2,422.2L773.7,422.2L771.9,422.7L770.4,424.1L769.8,425.3L769.5,427.3L770.1,429.1L771.0,430.3L772.8,431.3L774.3,431.3L776.1,430.8L777.6,429.4L778.3,428.2L778.5,426.2L777.9,424.4L777.0,423.2L775.2,422.2M793.1,426.4L786.8,438.5M790.1,432.2L789.5,430.4L788.6,429.2L786.7,428.3L785.2,428.2L783.4,428.7L781.9,430.1L781.3,431.3L781.0,433.3L781.6,435.1L782.5,436.3L784.4,437.3L785.9,437.3L787.7,436.8M794.6,432.4L794.1,442.3M801.9,436.2L794.1,442.3L791.7,444.0L789.8,444.5L788.3,444.5L787.7,444.2" stroke="#000" stroke-width="1.45" fill="none" stroke-linecap="round" stroke-linejoin="round"/>
<path d="M642.7,215.6L640.0,224.3M641.6,219.3L642.8,217.7L644.5,216.9L646.0,216.6L648.0,217.3M649.5,221.8L657.4,224.3L657.7,223.0L657.5,221.6L657.0,220.8L655.9,219.7L653.9,219.1L652.4,219.3L650.7,220.2L649.5,221.8L649.1,223.1L649.1,225.1L650.1,226.8L651.2,227.8L653.2,228.4L654.7,228.2L656.4,227.4M671.7,219.9L667.7,233.0M669.8,226.1L668.9,224.5L667.7,223.5L665.8,222.8L664.3,223.0L662.5,223.9L661.3,225.5L660.9,226.8L661.0,228.8L661.9,230.5L663.0,231.5L665.0,232.1L666.5,231.9L668.2,231.1M684.2,223.9L680.2,236.9M682.3,230.1L681.4,228.4L680.3,227.4L678.3,226.8L676.8,227.0L675.1,227.8L673.8,229.4L673.4,230.7L673.5,232.8L674.4,234.4L675.6,235.4L677.5,236.1L679.0,235.9L680.7,235.0M686.3,233.4L694.2,235.8L694.6,234.6L694.3,233.2L693.9,232.3L692.8,231.3L690.8,230.7L689.3,230.9L687.6,231.7L686.3,233.4L685.9,234.6L686.0,236.7L686.9,238.3L688.1,239.4L690.0,240.0L691.6,239.8L693.3,238.9M700.0,233.6L697.3,242.3M699.2,236.0L701.8,234.8L703.3,234.6L705.3,235.2L706.4,236.3L706.5,238.3L704.5,244.5M713.2,232.9L713.7,233.8L714.5,233.4L714.1,232.5L713.2,232.9M712.5,237.5L709.8,246.2M717.8,239.1L715.1,247.8M717.0,241.6L719.6,240.4L721.1,240.2L723.0,240.8L724.2,241.8L724.2,243.9L722.3,250.1M737.5,245.3L734.4,255.3L733.2,256.9L732.3,257.3L730.8,257.5L728.8,256.9L727.7,255.9M737.0,247.2L736.0,245.5L734.9,244.5L732.9,243.9L731.4,244.1L729.7,244.9L728.5,246.6L728.1,247.8L728.2,249.9L729.1,251.5L730.2,252.6L732.2,253.2L733.7,253.0L735.4,252.2M760.1,244.9L758.4,245.7L756.5,247.2L754.4,249.2L752.8,252.1L752.0,254.6L751.7,257.9L752.2,260.8L752.9,263.1L753.9,264.8M767.2,249.9L765.0,249.9L763.1,251.3L761.5,254.2L760.9,256.1L760.6,259.4L761.3,261.6L763.1,262.9L764.4,263.3L766.6,263.3L768.5,261.8L770.1,259.0L770.7,257.1L771.0,253.8L770.3,251.5L768.5,250.3L767.2,249.9M774.0,264.9L773.2,265.4L773.7,266.2L774.5,265.8L774.0,264.9M784.3,255.2L791.6,257.5L786.1,261.2L788.0,261.8L789.2,262.9L789.6,263.7L789.7,265.8L789.3,267.0L788.1,268.7L786.4,269.5L784.2,269.5L782.2,268.9L780.4,267.6L780.0,266.8L779.7,265.4M797.0,256.5L797.9,258.1L798.6,260.4L799.2,263.3L798.8,266.6L798.1,269.1L796.4,272.0L794.3,274.0L792.4,275.5L790.7,276.3" stroke="#ff0000" stroke-width="1.45" fill="none" stroke-linecap="round" stroke-linejoin="round"/>
<clipPath id="c2"><rect x="134.2" y="862.0" width="694.0999999999999" height="692.5"/></clipPath>
<g clip-path="url(#c2)">
<path d="M134.3,1519.4L540.0,1512.3L579.5,1511.1L621.5,1499.0L624.8,1485.4L633.3,1467.5L639.5,1445.0L649.2,1416.4L690.2,1381.0L830.0,1345.2" stroke="#000" stroke-width="2.3" fill="none" stroke-linecap="butt" stroke-linejoin="round" />
<rect x="566.9" y="1498.5" width="25.2" height="25.2" fill="none" stroke="#000" stroke-width="1.9"/>
<rect x="608.9" y="1486.4" width="25.2" height="25.2" fill="none" stroke="#000" stroke-width="1.9"/>
<rect x="612.2" y="1472.8" width="25.2" height="25.2" fill="none" stroke="#000" stroke-width="1.9"/>
<rect x="620.7" y="1454.9" width="25.2" height="25.2" fill="none" stroke="#000" stroke-width="1.9"/>
<rect x="626.9" y="1432.4" width="25.2" height="25.2" fill="none" stroke="#000" stroke-width="1.9"/>
<rect x="636.6" y="1403.8" width="25.2" height="25.2" fill="none" stroke="#000" stroke-width="1.9"/>
<rect x="677.6" y="1368.4" width="25.2" height="25.2" fill="none" stroke="#000" stroke-width="1.9"/>
<path d="M481.4,1172.1L481.4,1521.0" stroke="#ff0000" stroke-width="4.4" fill="none" stroke-linecap="round" stroke-linejoin="miter" />
<rect x="479.2" y="1170" width="4.4" height="6" fill="#ff0000"/>
<path d="M100.0,1499.2H297.5M100.0,1497.8v2.8M297.5,1497.8v2.8" stroke="#ff8000" stroke-width="1.1" fill="none" stroke-linecap="round"/>
<path d="M319.3,1485.3H502.9M319.3,1483.9v2.8M502.9,1483.9v2.8" stroke="#ff8000" stroke-width="1.1" fill="none" stroke-linecap="round"/>
<path d="M343.9,1471.7H545.3M343.9,1470.3v2.8M545.3,1470.3v2.8" stroke="#ff8000" stroke-width="1.1" fill="none" stroke-linecap="round"/>
<path d="M355.3,1457.8H574.4M355.3,1456.4v2.8M574.4,1456.4v2.8" stroke="#ff8000" stroke-width="1.1" fill="none" stroke-linecap="round"/>
<path d="M365.4,1444.0H600.6M365.4,1442.6v2.8M600.6,1442.6v2.8" stroke="#ff8000" stroke-width="1.1" fill="none" stroke-linecap="round"/>
<path d="M374.0,1430.0H623.9M374.0,1428.6v2.8M623.9,1428.6v2.8" stroke="#ff8000" stroke-width="1.1" fill="none" stroke-linecap="round"/>
<polygon points="215.5,1482.3 200.8,1507.7 230.2,1507.7" fill="none" stroke="#ff8000" stroke-width="2" stroke-linejoin="miter"/>
<polygon points="410.9,1468.4 396.2,1493.8 425.6,1493.8" fill="none" stroke="#ff8000" stroke-width="2" stroke-linejoin="miter"/>
<polygon points="444.6,1454.8 429.9,1480.2 459.3,1480.2" fill="none" stroke="#ff8000" stroke-width="2" stroke-linejoin="miter"/>
<polygon points="464.8,1440.9 450.1,1466.3 479.5,1466.3" fill="none" stroke="#ff8000" stroke-width="2" stroke-linejoin="miter"/>
<polygon points="483.1,1427.1 468.4,1452.5 497.8,1452.5" fill="none" stroke="#ff8000" stroke-width="2" stroke-linejoin="miter"/>
<polygon points="499.0,1413.1 484.3,1438.5 513.7,1438.5" fill="none" stroke="#ff8000" stroke-width="2" stroke-linejoin="miter"/>
<path d="M203.4,1434.1H374.3M203.4,1432.6v3.0M374.3,1432.6v3.0M288.1,1395.4V1473.1M286.6,1395.4h3.0M286.6,1473.1h3.0" stroke="#ff0000" stroke-width="2.2" fill="none" stroke-linecap="round"/>
<rect x="275.2" y="1421.2" width="25.8" height="25.8" fill="none" stroke="#ff0000" stroke-width="2"/>
<path d="M269.2,1384.0H440.6M269.2,1382.5v3.0M440.6,1382.5v3.0M354.9,1356.5V1410.6M353.4,1356.5h3.0M353.4,1410.6h3.0" stroke="#ff0000" stroke-width="2.2" fill="none" stroke-linecap="round"/>
<rect x="342.0" y="1371.1" width="25.8" height="25.8" fill="none" stroke="#ff0000" stroke-width="2"/>
<path d="M350.1,1362.9H502.7M350.1,1361.4v3.0M502.7,1361.4v3.0M426.4,1351.0V1375.0M424.9,1351.0h3.0M424.9,1375.0h3.0" stroke="#ff0000" stroke-width="2.2" fill="none" stroke-linecap="round"/>
<rect x="413.5" y="1350.0" width="25.8" height="25.8" fill="none" stroke="#ff0000" stroke-width="2"/>
<path d="M438.8,1342.4H661.2M438.8,1340.9v3.0M661.2,1340.9v3.0M549.9,1322.6V1363.7M548.4,1322.6h3.0M548.4,1363.7h3.0" stroke="#ff0000" stroke-width="2.2" fill="none" stroke-linecap="round"/>
<rect x="537.0" y="1329.5" width="25.8" height="25.8" fill="none" stroke="#ff0000" stroke-width="2"/>
<path d="M608.9,1320.8H823.3M608.9,1319.3v3.0M823.3,1319.3v3.0M716.3,1305.0V1335.7M714.8,1305.0h3.0M714.8,1335.7h3.0" stroke="#ff0000" stroke-width="2.2" fill="none" stroke-linecap="round"/>
<rect x="703.4" y="1307.9" width="25.8" height="25.8" fill="none" stroke="#ff0000" stroke-width="2"/>
<path d="M730.2,1302.4H960.0M730.2,1300.9v3.0M960.0,1300.9v3.0" stroke="#ff0000" stroke-width="2.2" fill="none" stroke-linecap="round"/>
<rect x="832.1" y="1289.5" width="25.8" height="25.8" fill="none" stroke="#ff0000" stroke-width="2"/>
<path d="M233.7,1427.8H376.3M233.7,1426.3v3.0M376.3,1426.3v3.0M304.8,1410.6V1447.0M303.3,1410.6h3.0M303.3,1447.0h3.0" stroke="#00ff00" stroke-width="2.2" fill="none" stroke-linecap="round"/>
<rect x="293.8" y="1416.8" width="22" height="22" fill="#00ff00"/>
<path d="M354.2,1383.5H497.8M354.2,1382.0v3.0M497.8,1382.0v3.0M426.0,1359.7V1407.3M424.5,1359.7h3.0M424.5,1407.3h3.0" stroke="#00ff00" stroke-width="2.2" fill="none" stroke-linecap="round"/>
<rect x="415.0" y="1372.5" width="22" height="22" fill="#00ff00"/>
<path d="M381.0,1357.8H524.3M381.0,1356.3v3.0M524.3,1356.3v3.0M452.4,1332.9V1382.5M450.9,1332.9h3.0M450.9,1382.5h3.0" stroke="#00ff00" stroke-width="2.2" fill="none" stroke-linecap="round"/>
<rect x="441.4" y="1346.8" width="22" height="22" fill="#00ff00"/>
<path d="M411.7,1330.4H555.0M411.7,1328.9v3.0M555.0,1328.9v3.0M483.5,1304.7V1356.0M482.0,1304.7h3.0M482.0,1356.0h3.0" stroke="#00ff00" stroke-width="2.2" fill="none" stroke-linecap="round"/>
<rect x="472.5" y="1319.4" width="22" height="22" fill="#00ff00"/>
<path d="M449.9,1300.9H635.8M449.9,1299.4v3.0M635.8,1299.4v3.0M542.4,1272.9V1329.0M540.9,1272.9h3.0M540.9,1329.0h3.0" stroke="#00ff00" stroke-width="2.2" fill="none" stroke-linecap="round"/>
<rect x="531.4" y="1289.9" width="22" height="22" fill="#00ff00"/>
<path d="M566.0,1270.2H838.0M566.0,1268.7v3.0M838.0,1268.7v3.0M702.0,1238.7V1301.5M700.5,1238.7h3.0M700.5,1301.5h3.0" stroke="#00ff00" stroke-width="2.2" fill="none" stroke-linecap="round"/>
<rect x="691.0" y="1259.2" width="22" height="22" fill="#00ff00"/>
<path d="M770.9,1243.2H990.0M770.9,1241.7v3.0M990.0,1241.7v3.0" stroke="#00ff00" stroke-width="2.2" fill="none" stroke-linecap="round"/>
<rect x="869.0" y="1232.2" width="22" height="22" fill="#00ff00"/>
<path d="M200.9,1412.4H343.2M200.9,1410.9v3.0M343.2,1410.9v3.0M271.7,1387.8V1435.9M270.2,1387.8h3.0M270.2,1435.9h3.0" stroke="#0000ff" stroke-width="2.2" fill="none" stroke-linecap="round"/>
<path d="M271.7,1399.2V1425.6M260.3,1405.8L283.1,1419.0M260.3,1419.0L283.1,1405.8" stroke="#0000ff" stroke-width="1.9" fill="none"/>
<path d="M276.8,1383.9H424.0M276.8,1382.4v3.0M424.0,1382.4v3.0M350.2,1353.0V1414.8M348.7,1353.0h3.0M348.7,1414.8h3.0" stroke="#0000ff" stroke-width="2.2" fill="none" stroke-linecap="round"/>
<path d="M350.2,1370.7V1397.1M338.8,1377.3L361.6,1390.5M338.8,1390.5L361.6,1377.3" stroke="#0000ff" stroke-width="1.9" fill="none"/>
<path d="M364.1,1345.9H507.5M364.1,1344.4v3.0M507.5,1344.4v3.0M435.9,1332.9V1358.9M434.4,1332.9h3.0M434.4,1358.9h3.0" stroke="#0000ff" stroke-width="2.2" fill="none" stroke-linecap="round"/>
<path d="M435.9,1332.7V1359.1M424.5,1339.3L447.3,1352.5M424.5,1352.5L447.3,1339.3" stroke="#0000ff" stroke-width="1.9" fill="none"/>
<path d="M438.3,1327.2H585.4M438.3,1325.7v3.0M585.4,1325.7v3.0M511.7,1306.6V1346.3M510.2,1306.6h3.0M510.2,1346.3h3.0" stroke="#0000ff" stroke-width="2.2" fill="none" stroke-linecap="round"/>
<path d="M511.7,1314.0V1340.4M500.3,1320.6L523.1,1333.8M500.3,1333.8L523.1,1320.6" stroke="#0000ff" stroke-width="1.9" fill="none"/>
<path d="M549.9,1301.8H692.2M549.9,1300.3v3.0M692.2,1300.3v3.0M620.9,1289.0V1313.3M619.4,1289.0h3.0M619.4,1313.3h3.0" stroke="#0000ff" stroke-width="2.2" fill="none" stroke-linecap="round"/>
<path d="M620.9,1288.6V1315.0M609.5,1295.2L632.3,1308.4M609.5,1308.4L632.3,1295.2" stroke="#0000ff" stroke-width="1.9" fill="none"/>
<path d="M576.0,1284.8H842.0M576.0,1283.3v3.0M842.0,1283.3v3.0M708.9,1262.2V1308.0M707.4,1262.2h3.0M707.4,1308.0h3.0" stroke="#0000ff" stroke-width="2.2" fill="none" stroke-linecap="round"/>
<path d="M708.9,1271.6V1298.0M697.5,1278.2L720.3,1291.4M697.5,1291.4L720.3,1278.2" stroke="#0000ff" stroke-width="1.9" fill="none"/>
<path d="M243.1,1429.2H386.2M243.1,1427.7v3.0M386.2,1427.7v3.0M314.7,1402.5V1456.7M313.2,1402.5h3.0M313.2,1456.7h3.0" stroke="#ff00ff" stroke-width="2.2" fill="none" stroke-linecap="round"/>
<circle cx="314.7" cy="1429.2" r="14.5" fill="none" stroke="#ff00ff" stroke-width="2"/>
<path d="M364.1,1382.0H507.5M364.1,1380.5v3.0M507.5,1380.5v3.0M435.9,1358.2V1406.9M434.4,1358.2h3.0M434.4,1406.9h3.0" stroke="#ff00ff" stroke-width="2.2" fill="none" stroke-linecap="round"/>
<circle cx="435.9" cy="1382" r="14.5" fill="none" stroke="#ff00ff" stroke-width="2"/>
<path d="M409.8,1352.8H566.6M409.8,1351.3v3.0M566.6,1351.3v3.0M488.2,1319.0V1386.4M486.7,1319.0h3.0M486.7,1386.4h3.0" stroke="#ff00ff" stroke-width="2.2" fill="none" stroke-linecap="round"/>
<circle cx="488.2" cy="1352.8" r="14.5" fill="none" stroke="#ff00ff" stroke-width="2"/>
<path d="M495.0,1315.2H637.7M495.0,1313.7v3.0M637.7,1313.7v3.0M565.9,1301.0V1329.4M564.4,1301.0h3.0M564.4,1329.4h3.0" stroke="#ff00ff" stroke-width="2.2" fill="none" stroke-linecap="round"/>
<circle cx="565.9" cy="1315.2" r="14.5" fill="none" stroke="#ff00ff" stroke-width="2"/>
<path d="M582.8,1293.5H725.6M582.8,1292.0v3.0M725.6,1292.0v3.0M654.4,1274.0V1312.5M652.9,1274.0h3.0M652.9,1312.5h3.0" stroke="#ff00ff" stroke-width="2.2" fill="none" stroke-linecap="round"/>
<circle cx="654.4" cy="1293.5" r="14.5" fill="none" stroke="#ff00ff" stroke-width="2"/>
<path d="M661.2,1259.0H913.0M661.2,1257.5v3.0M913.0,1257.5v3.0M787.4,1209.0V1308.6M785.9,1209.0h3.0M785.9,1308.6h3.0" stroke="#ff00ff" stroke-width="2.2" fill="none" stroke-linecap="round"/>
<circle cx="787.4" cy="1259" r="14.5" fill="none" stroke="#ff00ff" stroke-width="2"/>
<path d="M792.0,1211.3H1000.0M792.0,1209.8v3.0M1000.0,1209.8v3.0" stroke="#ff00ff" stroke-width="2.2" fill="none" stroke-linecap="round"/>
<circle cx="900" cy="1211.3" r="14.5" fill="none" stroke="#ff00ff" stroke-width="2"/>
</g>
<rect x="134.2" y="862.0" width="694.0999999999999" height="692.5" fill="none" stroke="#000" stroke-width="2.3"/>
<path d="M221.0,862.0v11.2M221.0,1554.5v-11.2M307.7,862.0v21.6M307.7,1554.5v-21.6M394.5,862.0v11.2M394.5,1554.5v-11.2M481.2,862.0v21.6M481.2,1554.5v-21.6M568.0,862.0v11.2M568.0,1554.5v-11.2M654.8,862.0v21.6M654.8,1554.5v-21.6M741.5,862.0v11.2M741.5,1554.5v-11.2M134.2,1485.2h11.2M828.3,1485.2h-11.2M134.2,1416.0h21.6M828.3,1416.0h-21.6M134.2,1346.8h11.2M828.3,1346.8h-11.2M134.2,1277.5h21.6M828.3,1277.5h-21.6M134.2,1208.2h11.2M828.3,1208.2h-11.2M134.2,1139.0h21.6M828.3,1139.0h-21.6M134.2,1069.8h11.2M828.3,1069.8h-11.2M134.2,1000.5h21.6M828.3,1000.5h-21.6M134.2,931.2h11.2M828.3,931.2h-11.2" stroke="#000" stroke-width="2.3" fill="none"/>
<path d="M133.2,1429.4L240.0,1449.0L340.0,1465.8L400.0,1474.2L481.2,1483.9L540.0,1491.0L600.0,1497.1L700.0,1505.6L830.0,1515.1" stroke="#0000ff" stroke-width="3.6" fill="none" stroke-linecap="butt" stroke-linejoin="round" />
<path d="M55.2,852.5L58.0,851.1L62.2,846.9L62.2,876.3M87.4,846.9L83.2,848.3L80.4,852.5L79.0,859.5L79.0,863.7L80.4,870.7L83.2,874.9L87.4,876.3L90.2,876.3L94.4,874.9L97.2,870.7L98.6,863.7L98.6,859.5L97.2,852.5L94.4,848.3L90.2,846.9L87.4,846.9" stroke="#000" stroke-width="2.4" fill="none" stroke-linecap="round" stroke-linejoin="round"/>
<path d="M86.0,985.4L81.8,986.8L80.4,989.6L80.4,992.4L81.8,995.2L84.6,996.6L90.2,998.0L94.4,999.4L97.2,1002.2L98.6,1005.0L98.6,1009.2L97.2,1012.0L95.8,1013.4L91.6,1014.8L86.0,1014.8L81.8,1013.4L80.4,1012.0L79.0,1009.2L79.0,1005.0L80.4,1002.2L83.2,999.4L87.4,998.0L93.0,996.6L95.8,995.2L97.2,992.4L97.2,989.6L95.8,986.8L91.6,985.4L86.0,985.4" stroke="#000" stroke-width="2.4" fill="none" stroke-linecap="round" stroke-linejoin="round"/>
<path d="M97.2,1128.1L95.8,1125.3L91.6,1123.9L88.8,1123.9L84.6,1125.3L81.8,1129.5L80.4,1136.5L80.4,1143.5L81.8,1149.1L84.6,1151.9L88.8,1153.3L90.2,1153.3L94.4,1151.9L97.2,1149.1L98.6,1144.9L98.6,1143.5L97.2,1139.3L94.4,1136.5L90.2,1135.1L88.8,1135.1L84.6,1136.5L81.8,1139.3L80.4,1143.5" stroke="#000" stroke-width="2.4" fill="none" stroke-linecap="round" stroke-linejoin="round"/>
<path d="M93.0,1262.4L79.0,1282.0L100.0,1282.0M93.0,1262.4L93.0,1291.8" stroke="#000" stroke-width="2.4" fill="none" stroke-linecap="round" stroke-linejoin="round"/>
<path d="M80.4,1407.9L80.4,1406.5L81.8,1403.7L83.2,1402.3L86.0,1400.9L91.6,1400.9L94.4,1402.3L95.8,1403.7L97.2,1406.5L97.2,1409.3L95.8,1412.1L93.0,1416.3L79.0,1430.3L98.6,1430.3" stroke="#000" stroke-width="2.4" fill="none" stroke-linecap="round" stroke-linejoin="round"/>
<path d="M87.4,1539.4L83.2,1540.8L80.4,1545.0L79.0,1552.0L79.0,1556.2L80.4,1563.2L83.2,1567.4L87.4,1568.8L90.2,1568.8L94.4,1567.4L97.2,1563.2L98.6,1556.2L98.6,1552.0L97.2,1545.0L94.4,1540.8L90.2,1539.4L87.4,1539.4" stroke="#000" stroke-width="2.4" fill="none" stroke-linecap="round" stroke-linejoin="round"/>
<path d="M111.7,1579.3L107.5,1580.7L104.7,1584.9L103.3,1591.9L103.3,1596.1L104.7,1603.1L107.5,1607.3L111.7,1608.7L114.5,1608.7L118.7,1607.3L121.5,1603.1L122.9,1596.1L122.9,1591.9L121.5,1584.9L118.7,1580.7L114.5,1579.3L111.7,1579.3M134.1,1605.9L132.7,1607.3L134.1,1608.7L135.5,1607.3L134.1,1605.9M146.7,1586.3L146.7,1584.9L148.1,1582.1L149.5,1580.7L152.3,1579.3L157.9,1579.3L160.7,1580.7L162.1,1582.1L163.5,1584.9L163.5,1587.7L162.1,1590.5L159.3,1594.7L145.3,1608.7L164.9,1608.7" stroke="#000" stroke-width="2.4" fill="none" stroke-linecap="round" stroke-linejoin="round"/>
<path d="M285.4,1579.3L281.2,1580.7L278.4,1584.9L277.0,1591.9L277.0,1596.1L278.4,1603.1L281.2,1607.3L285.4,1608.7L288.2,1608.7L292.4,1607.3L295.2,1603.1L296.6,1596.1L296.6,1591.9L295.2,1584.9L292.4,1580.7L288.2,1579.3L285.4,1579.3M307.8,1605.9L306.4,1607.3L307.8,1608.7L309.2,1607.3L307.8,1605.9M333.0,1579.3L319.0,1598.9L340.0,1598.9M333.0,1579.3L333.0,1608.7" stroke="#000" stroke-width="2.4" fill="none" stroke-linecap="round" stroke-linejoin="round"/>
<path d="M458.3,1579.3L454.1,1580.7L451.3,1584.9L449.9,1591.9L449.9,1596.1L451.3,1603.1L454.1,1607.3L458.3,1608.7L461.1,1608.7L465.3,1607.3L468.1,1603.1L469.5,1596.1L469.5,1591.9L468.1,1584.9L465.3,1580.7L461.1,1579.3L458.3,1579.3M480.7,1605.9L479.3,1607.3L480.7,1608.7L482.1,1607.3L480.7,1605.9M510.1,1583.5L508.7,1580.7L504.5,1579.3L501.7,1579.3L497.5,1580.7L494.7,1584.9L493.3,1591.9L493.3,1598.9L494.7,1604.5L497.5,1607.3L501.7,1608.7L503.1,1608.7L507.3,1607.3L510.1,1604.5L511.5,1600.3L511.5,1598.9L510.1,1594.7L507.3,1591.9L503.1,1590.5L501.7,1590.5L497.5,1591.9L494.7,1594.7L493.3,1598.9" stroke="#000" stroke-width="2.4" fill="none" stroke-linecap="round" stroke-linejoin="round"/>
<path d="M632.2,1579.3L628.0,1580.7L625.2,1584.9L623.8,1591.9L623.8,1596.1L625.2,1603.1L628.0,1607.3L632.2,1608.7L635.0,1608.7L639.2,1607.3L642.0,1603.1L643.4,1596.1L643.4,1591.9L642.0,1584.9L639.2,1580.7L635.0,1579.3L632.2,1579.3M654.6,1605.9L653.2,1607.3L654.6,1608.7L656.0,1607.3L654.6,1605.9M672.8,1579.3L668.6,1580.7L667.2,1583.5L667.2,1586.3L668.6,1589.1L671.4,1590.5L677.0,1591.9L681.2,1593.3L684.0,1596.1L685.4,1598.9L685.4,1603.1L684.0,1605.9L682.6,1607.3L678.4,1608.7L672.8,1608.7L668.6,1607.3L667.2,1605.9L665.8,1603.1L665.8,1598.9L667.2,1596.1L670.0,1593.3L674.2,1591.9L679.8,1590.5L682.6,1589.1L684.0,1586.3L684.0,1583.5L682.6,1580.7L678.4,1579.3L672.8,1579.3" stroke="#000" stroke-width="2.4" fill="none" stroke-linecap="round" stroke-linejoin="round"/>
<path d="M409.2,1669.9L409.2,1698.8M409.2,1669.9L427.3,1669.9M409.2,1683.7L420.3,1683.7M409.2,1698.8L427.3,1698.8M445.3,1664.3L442.5,1667.1L439.7,1671.2L437.0,1676.8L435.6,1683.7L435.6,1689.2L437.0,1696.1L439.7,1701.6L442.5,1705.8L445.3,1708.5M455.0,1669.9L455.0,1698.8M455.0,1669.9L467.4,1669.9L471.6,1671.2L473.0,1672.6L474.4,1675.4L474.4,1678.1L473.0,1680.9L471.6,1682.3L467.4,1683.7M455.0,1683.7L467.4,1683.7L471.6,1685.0L473.0,1686.4L474.4,1689.2L474.4,1693.3L473.0,1696.1L471.6,1697.5L467.4,1698.8L455.0,1698.8M484.1,1686.4L509.0,1686.4M515.9,1669.9L527.0,1698.8M538.1,1669.9L527.0,1698.8M543.7,1664.3L546.4,1667.1L549.2,1671.2L552.0,1676.8L553.4,1683.7L553.4,1689.2L552.0,1696.1L549.2,1701.6L546.4,1705.8L543.7,1708.5" stroke="#000" stroke-width="2.5" fill="none" stroke-linecap="round" stroke-linejoin="round"/>
<path d="M6.4,1345.1L35.8,1345.1M20.4,1345.1L17.6,1347.9L16.2,1350.6L16.2,1354.8L17.6,1357.6L20.4,1360.4L24.6,1361.8L27.4,1361.8L31.6,1360.4L34.4,1357.6L35.8,1354.8L35.8,1350.6L34.4,1347.9L31.6,1345.1M6.4,1335.4L7.8,1334.0L6.4,1332.6L5.0,1334.0L6.4,1335.4M16.2,1334.0L35.8,1334.0M20.4,1309.0L17.6,1310.4L16.2,1314.5L16.2,1318.7L17.6,1322.9L20.4,1324.3L23.2,1322.9L24.6,1320.1L26.0,1313.2L27.4,1310.4L30.2,1309.0L31.6,1309.0L34.4,1310.4L35.8,1314.5L35.8,1318.7L34.4,1322.9L31.6,1324.3M6.4,1297.9L30.2,1297.9L34.4,1296.5L35.8,1293.7L35.8,1291.0M16.2,1302.1L16.2,1292.3M16.2,1267.3L35.8,1267.3M20.4,1267.3L17.6,1270.1L16.2,1272.9L16.2,1277.1L17.6,1279.8L20.4,1282.6L24.6,1284.0L27.4,1284.0L31.6,1282.6L34.4,1279.8L35.8,1277.1L35.8,1272.9L34.4,1270.1L31.6,1267.3M16.2,1256.2L35.8,1256.2M21.8,1256.2L17.6,1252.1L16.2,1249.3L16.2,1245.1L17.6,1242.4L21.8,1241.0L35.8,1241.0M20.4,1214.6L17.6,1217.4L16.2,1220.2L16.2,1224.3L17.6,1227.1L20.4,1229.9L24.6,1231.3L27.4,1231.3L31.6,1229.9L34.4,1227.1L35.8,1224.3L35.8,1220.2L34.4,1217.4L31.6,1214.6M24.6,1206.3L24.6,1189.6L21.8,1189.6L19.0,1191.0L17.6,1192.4L16.2,1195.2L16.2,1199.3L17.6,1202.1L20.4,1204.9L24.6,1206.3L27.4,1206.3L31.6,1204.9L34.4,1202.1L35.8,1199.3L35.8,1195.2L34.4,1192.4L31.6,1189.6M0.8,1148.0L3.6,1150.7L7.8,1153.5L13.4,1156.3L20.4,1157.7L26.0,1157.7L33.0,1156.3L38.6,1153.5L42.8,1150.7L45.6,1148.0M6.4,1138.2L35.8,1138.2M16.2,1124.4L30.2,1138.2M24.6,1132.7L35.8,1123.0M16.2,1114.6L45.6,1114.6M20.4,1114.6L17.6,1111.9L16.2,1109.1L16.2,1104.9L17.6,1102.2L20.4,1099.4L24.6,1098.0L27.4,1098.0L31.6,1099.4L34.4,1102.2L35.8,1104.9L35.8,1109.1L34.4,1111.9L31.6,1114.6M20.4,1073.0L17.6,1075.8L16.2,1078.6L16.2,1082.7L17.6,1085.5L20.4,1088.3L24.6,1089.7L27.4,1089.7L31.6,1088.3L34.4,1085.5L35.8,1082.7L35.8,1078.6L34.4,1075.8L31.6,1073.0M0.8,1064.7L3.6,1061.9L7.8,1059.1L13.4,1056.3L20.4,1055.0L26.0,1055.0L33.0,1056.3L38.6,1059.1L42.8,1061.9L45.6,1064.7" stroke="#000" stroke-width="2.5" fill="none" stroke-linecap="round" stroke-linejoin="round"/>
<path d="M181.0,910.6L181.0,931.1M181.0,910.6L193.5,910.6M181.0,920.4L188.7,920.4M181.0,931.1L193.5,931.1M198.4,917.4L209.0,931.1M209.0,917.4L198.4,931.1M216.7,910.6L216.7,927.2L217.6,930.1L219.6,931.1L221.5,931.1M213.8,917.4L220.5,917.4M226.3,910.6L227.3,911.6L228.2,910.6L227.3,909.6L226.3,910.6M227.3,917.4L227.3,931.1M235.0,917.4L235.0,931.1M235.0,921.3L237.9,918.4L239.8,917.4L242.7,917.4L244.6,918.4L245.6,921.3L245.6,931.1M263.9,920.4L262.0,918.4L260.1,917.4L257.2,917.4L255.2,918.4L253.3,920.4L252.3,923.3L252.3,925.2L253.3,928.2L255.2,930.1L257.2,931.1L260.1,931.1L262.0,930.1L263.9,928.2M271.6,910.6L271.6,927.2L272.6,930.1L274.5,931.1L276.5,931.1M268.7,917.4L275.5,917.4M281.3,910.6L282.2,911.6L283.2,910.6L282.2,909.6L281.3,910.6M282.2,917.4L282.2,931.1M293.8,917.4L291.9,918.4L289.9,920.4L289.0,923.3L289.0,925.2L289.9,928.2L291.9,930.1L293.8,931.1L296.7,931.1L298.6,930.1L300.6,928.2L301.5,925.2L301.5,923.3L300.6,920.4L298.6,918.4L296.7,917.4L293.8,917.4M308.3,917.4L308.3,931.1M308.3,921.3L311.2,918.4L313.1,917.4L316.0,917.4L317.9,918.4L318.9,921.3L318.9,931.1M343.0,910.6L343.0,927.2L343.9,930.1L345.9,931.1L347.8,931.1M340.1,917.4L346.8,917.4M357.4,917.4L355.5,918.4L353.6,920.4L352.6,923.3L352.6,925.2L353.6,928.2L355.5,930.1L357.4,931.1L360.3,931.1L362.3,930.1L364.2,928.2L365.2,925.2L365.2,923.3L364.2,920.4L362.3,918.4L360.3,917.4L357.4,917.4M370.9,917.4L374.8,931.1M378.6,917.4L374.8,931.1M378.6,917.4L382.5,931.1M386.4,917.4L382.5,931.1M403.7,917.4L403.7,931.1M403.7,920.4L401.8,918.4L399.9,917.4L397.0,917.4L395.0,918.4L393.1,920.4L392.1,923.3L392.1,925.2L393.1,928.2L395.0,930.1L397.0,931.1L399.9,931.1L401.8,930.1L403.7,928.2M411.4,917.4L411.4,931.1M411.4,923.3L412.4,920.4L414.3,918.4L416.3,917.4L419.1,917.4M434.6,910.6L434.6,931.1M434.6,920.4L432.6,918.4L430.7,917.4L427.8,917.4L425.9,918.4L424.0,920.4L423.0,923.3L423.0,925.2L424.0,928.2L425.9,930.1L427.8,931.1L430.7,931.1L432.6,930.1L434.6,928.2M464.5,906.7L462.5,908.7L460.6,911.6L458.7,915.5L457.7,920.4L457.7,924.3L458.7,929.1L460.6,933.0L462.5,936.0L464.5,937.9M506.9,906.7L508.8,908.7L510.7,911.6L512.7,915.5L513.6,920.4L513.6,924.3L512.7,929.1L510.7,933.0L508.8,936.0L506.9,937.9M521.3,919.4L538.7,919.4M521.3,925.2L538.7,925.2M553.2,906.7L551.2,908.7L549.3,911.6L547.4,915.5L546.4,920.4L546.4,924.3L547.4,929.1L549.3,933.0L551.2,936.0L553.2,937.9M571.5,913.5L570.5,911.6L567.6,910.6L565.7,910.6L562.8,911.6L560.9,914.5L559.9,919.4L559.9,924.3L560.9,928.2L562.8,930.1L565.7,931.1L566.7,931.1L569.6,930.1L571.5,928.2L572.4,925.2L572.4,924.3L571.5,921.3L569.6,919.4L566.7,918.4L565.7,918.4L562.8,919.4L560.9,921.3L559.9,924.3M580.2,910.6L590.8,910.6L585.0,918.4L587.9,918.4L589.8,919.4L590.8,920.4L591.7,923.3L591.7,925.2L590.8,928.2L588.8,930.1L585.9,931.1L583.0,931.1L580.2,930.1L579.2,929.1L578.2,927.2M599.4,929.1L598.5,930.1L599.4,931.1L600.4,930.1L599.4,929.1M609.1,910.6L619.7,910.6L613.9,918.4L616.8,918.4L618.7,919.4L619.7,920.4L620.6,923.3L620.6,925.2L619.7,928.2L617.8,930.1L614.9,931.1L612.0,931.1L609.1,930.1L608.1,929.1L607.2,927.2M629.3,930.1L628.4,931.1L627.4,930.1L628.4,929.1L629.3,930.1L629.3,932.1L628.4,934.0L627.4,935.0M645.7,913.5L645.7,931.1M637.0,922.3L654.4,922.3M666.9,910.6L664.0,911.6L662.1,914.5L661.1,919.4L661.1,922.3L662.1,927.2L664.0,930.1L666.9,931.1L668.9,931.1L671.7,930.1L673.7,927.2L674.6,922.3L674.6,919.4L673.7,914.5L671.7,911.6L668.9,910.6L666.9,910.6M682.4,929.1L681.4,930.1L682.4,931.1L683.3,930.1L682.4,929.1M694.9,910.6L692.0,911.6L691.0,913.5L691.0,915.5L692.0,917.4L693.9,918.4L697.8,919.4L700.7,920.4L702.6,922.3L703.6,924.3L703.6,927.2L702.6,929.1L701.6,930.1L698.7,931.1L694.9,931.1L692.0,930.1L691.0,929.1L690.1,927.2L690.1,924.3L691.0,922.3L693.0,920.4L695.9,919.4L699.7,918.4L701.6,917.4L702.6,915.5L702.6,913.5L701.6,911.6L698.7,910.6L694.9,910.6M709.4,906.7L711.3,908.7L713.2,911.6L715.1,915.5L716.1,920.4L716.1,924.3L715.1,929.1L713.2,933.0L711.3,936.0L709.4,937.9" stroke="#000" stroke-width="2.4" fill="none" stroke-linecap="round" stroke-linejoin="round"/>
<path d="M467.8,924.3L472.2,918.4L474.6,913.5L475.4,910.6L474.6,909.3L473.0,910.0L471.3,914.5L470.1,920.4L469.8,926.2L470.2,930.1L471.7,931.3L473.6,930.7L475.9,928.2M482.8,930.1L481.8,931.1L480.8,930.1L481.8,929.1L482.8,930.1L482.8,932.1L481.8,934.0L480.8,935.0M491.6,910.3L493.5,909.6L490.3,927.2L490.6,930.1L492.9,931.4L495.8,931.1L499.2,929.1L501.6,925.2L502.2,920.4L500.6,916.5L498.2,915.5L494.8,917.4L491.7,921.8" stroke="#000" stroke-width="3.00" fill="none" stroke-linecap="round" stroke-linejoin="round"/>
<path d="M406.3,973.5L404.1,975.7L401.9,978.9L399.7,983.2L398.6,988.5L398.6,992.8L399.7,998.2L401.9,1002.4L404.1,1005.6L406.3,1007.8M414.1,977.8L414.1,1000.3M414.1,988.5L416.3,986.4L418.5,985.3L421.8,985.3L424.0,986.4L426.2,988.5L427.3,991.7L427.3,993.9L426.2,997.1L424.0,999.2L421.8,1000.3L418.5,1000.3L416.3,999.2L414.1,997.1M433.9,973.5L436.2,975.7L438.4,978.9L440.6,983.2L441.7,988.5L441.7,992.8L440.6,998.2L438.4,1002.4L436.2,1005.6L433.9,1007.8M468.2,977.8L468.2,1000.3M468.2,1000.3L481.4,1000.3M483.7,977.8L492.5,1000.3M501.3,977.8L492.5,1000.3M521.2,977.8L530.0,1000.3M538.9,977.8L530.0,1000.3M544.4,985.3L544.4,996.0L545.5,999.2L547.7,1000.3L551.0,1000.3L553.2,999.2L556.6,996.0M556.6,985.3L556.6,1000.3M565.4,977.8L565.4,1000.3M594.1,982.1L596.3,981.0L599.6,977.8L599.6,1000.3M627.3,985.3L626.1,988.5L623.9,990.7L620.6,991.7L619.5,991.7L616.2,990.7L614.0,988.5L612.9,985.3L612.9,984.2L614.0,981.0L616.2,978.9L619.5,977.8L620.6,977.8L623.9,978.9L626.1,981.0L627.3,985.3L627.3,990.7L626.1,996.0L623.9,999.2L620.6,1000.3L618.4,1000.3L615.1,999.2L614.0,997.1M649.3,981.0L648.2,978.9L644.9,977.8L642.7,977.8L639.4,978.9L637.2,982.1L636.1,987.5L636.1,992.8L637.2,997.1L639.4,999.2L642.7,1000.3L643.8,1000.3L647.1,999.2L649.3,997.1L650.4,993.9L650.4,992.8L649.3,989.6L647.1,987.5L643.8,986.4L642.7,986.4L639.4,987.5L637.2,989.6L636.1,992.8M662.6,977.8L659.3,978.9L658.2,981.0L658.2,983.2L659.3,985.3L661.5,986.4L665.9,987.5L669.2,988.5L671.4,990.7L672.5,992.8L672.5,996.0L671.4,998.2L670.3,999.2L667.0,1000.3L662.6,1000.3L659.3,999.2L658.2,998.2L657.1,996.0L657.1,992.8L658.2,990.7L660.4,988.5L663.7,987.5L668.1,986.4L670.3,985.3L671.4,983.2L671.4,981.0L670.3,978.9L667.0,977.8L662.6,977.8M689.1,973.5L680.3,1007.8M695.7,973.5L686.9,1007.8M680.3,986.4L695.7,986.4M679.2,993.9L694.6,993.9M705.7,982.1L707.9,981.0L711.2,977.8L711.2,1000.3" stroke="#000" stroke-width="2.4" fill="none" stroke-linecap="round" stroke-linejoin="round"/>
<path d="M383.9,1118.9L383.9,1138.8M383.9,1118.9L396.5,1118.9M383.9,1128.4L391.6,1128.4M383.9,1138.8L396.5,1138.8M409.1,1115.1L407.1,1117.0L405.2,1119.8L403.3,1123.6L402.3,1128.4L402.3,1132.2L403.3,1136.9L405.2,1140.8L407.1,1143.6L409.1,1145.5M415.9,1118.9L415.9,1138.8M415.9,1118.9L424.6,1118.9L427.5,1119.8L428.5,1120.8L429.5,1122.7L429.5,1124.6L428.5,1126.5L427.5,1127.4L424.6,1128.4M415.9,1128.4L424.6,1128.4L427.5,1129.3L428.5,1130.3L429.5,1132.2L429.5,1135.0L428.5,1136.9L427.5,1137.9L424.6,1138.8L415.9,1138.8M436.3,1130.3L453.7,1130.3M458.6,1118.9L466.4,1138.8M474.1,1118.9L466.4,1138.8M478.0,1115.1L479.9,1117.0L481.9,1119.8L483.8,1123.6L484.8,1128.4L484.8,1132.2L483.8,1136.9L481.9,1140.8L479.9,1143.6L478.0,1145.5M492.6,1127.4L510.0,1127.4M492.6,1133.1L510.0,1133.1M522.7,1118.9L519.7,1119.8L517.8,1122.7L516.8,1127.4L516.8,1130.3L517.8,1135.0L519.7,1137.9L522.7,1138.8L524.6,1138.8L527.5,1137.9L529.4,1135.0L530.4,1130.3L530.4,1127.4L529.4,1122.7L527.5,1119.8L524.6,1118.9L522.7,1118.9M538.2,1136.9L537.2,1137.9L538.2,1138.8L539.2,1137.9L538.2,1136.9M558.6,1121.8L557.6,1119.8L554.7,1118.9L552.7,1118.9L549.8,1119.8L547.9,1122.7L546.9,1127.4L546.9,1132.2L547.9,1136.0L549.8,1137.9L552.7,1138.8L553.7,1138.8L556.6,1137.9L558.6,1136.0L559.5,1133.1L559.5,1132.2L558.6,1129.3L556.6,1127.4L553.7,1126.5L552.7,1126.5L549.8,1127.4L547.9,1129.3L546.9,1132.2M571.2,1118.9L568.3,1119.8L566.3,1122.7L565.4,1127.4L565.4,1130.3L566.3,1135.0L568.3,1137.9L571.2,1138.8L573.1,1138.8L576.0,1137.9L578.0,1135.0L579.0,1130.3L579.0,1127.4L578.0,1122.7L576.0,1119.8L573.1,1118.9L571.2,1118.9" stroke="#ff0000" stroke-width="2.5" fill="none" stroke-linecap="round" stroke-linejoin="round"/>
</svg>
</body></html>
